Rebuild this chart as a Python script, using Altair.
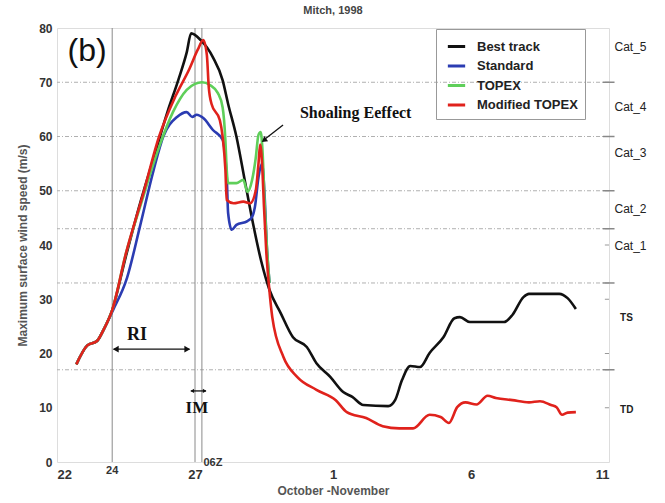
import altair as alt
import pandas as pd

# Days are counted from 22 October 1998, 00Z
black_day = [0.7, 1.1, 1.45, 1.7, 2.0, 2.5, 3.0, 3.5, 4.0, 4.4, 4.7, 4.86, 5.2, 5.65, 6.0, 6.2, 6.5, 6.8, 7.1, 7.4,
             7.7, 8.1, 8.55, 9.05, 9.4, 9.9, 10.37, 10.7, 11.1, 12.0, 12.25, 12.5, 12.8, 13.15, 13.5, 14.0, 14.4,
             14.6, 14.96, 16.2, 16.5, 16.9, 17.1, 18.2, 18.5, 18.8]
black_val = [18, 21.5, 22.3, 24.5, 28, 38, 47.5, 56, 64.5, 70.5, 75.5, 79, 77.8, 74.6, 70.4, 66, 60, 52, 44, 37,
             31.7, 27.5, 23, 21.2, 18.2, 15.7, 12.9, 12, 10.5, 10.3, 11.4, 15.1, 17.7, 17.5, 20.1, 23, 26.5,
             26.7, 25.8, 25.8, 27.1, 30.4, 31, 31, 30.2, 28.2]

blue_day = [0.7, 1.1, 1.45, 1.7, 2.03, 2.54, 3.0, 3.5, 3.85, 4.35, 4.7, 4.9, 5.06, 5.3, 5.65, 6.0, 6.15, 6.2, 6.33,
            6.5, 6.9, 7.07, 7.17, 7.3, 7.43, 7.53, 7.6, 7.7]
blue_val = [18, 21.5, 22.3, 24.5, 28, 34, 43.3, 53.8, 60, 63.6, 64.5, 63.6, 64, 63.4, 61.2, 59.4, 52.5, 45.9, 42.8,
            43.7, 44.4, 45.2, 47, 52.5, 55, 48.3, 40, 33]

green_day = [0.7, 1.1, 1.45, 1.7, 2.0, 2.5, 3.1, 3.4, 3.73, 4.2, 4.7, 5.0, 5.25, 5.54, 5.83, 6.0, 6.1, 6.15, 6.2,
             6.5, 6.75, 6.9, 7.07, 7.2, 7.3, 7.38, 7.45, 7.52, 7.6, 7.7]
green_val = [18, 21.5, 22.3, 24.5, 28, 38.5, 48.5, 53.5, 58.5, 64.5, 68.6, 69.7, 70, 69.5, 68, 65.4, 59.4, 53.8,
             51.4, 51.4, 52, 49.8, 52, 56, 60.3, 60.8, 57, 48, 40, 33]

red_day = [0.7, 1.1, 1.45, 1.7, 2.0, 2.5, 3.1, 3.7, 4.3, 4.8, 5.1, 5.3, 5.43, 5.5, 5.6, 5.9, 6.0, 6.1, 6.15, 6.4,
           6.75, 7.0, 7.2, 7.3, 7.36, 7.43, 7.5, 7.58, 7.68, 7.8, 8.2, 8.7, 9.4, 10.1, 10.5, 11.2, 11.8, 12.4,
           12.9, 13.5, 13.9, 14.2, 14.5, 14.8, 15.2, 15.6, 15.9, 16.5, 17.1, 17.5, 17.9, 18.1, 18.3, 18.5, 18.8]
red_val = [18, 21.5, 22.3, 24.5, 28, 38.5, 49, 60, 67.5, 72.5, 76, 77.8, 75, 69, 66, 63, 60, 54, 48.3, 47.7,
           48, 47.7, 50, 55, 58.5, 55, 47, 39, 32.5, 26.7, 19.4, 15.7, 13.3, 11.4, 9.2, 8.1, 6.6, 6.2,
           6.2, 8.7, 8.3, 7.2, 10.1, 11, 10.6, 12.2, 11.8, 11.4, 11, 11.2, 10.5, 10.1, 8.7, 9.1, 9.2]

series_names = ["Best track", "Standard", "TOPEX", "Modified TOPEX"]
series_colors = ["#111111", "#2b3cb2", "#5fcf5a", "#e0221c"]

# Saffir-Simpson thresholds (m/s) and category labels on the right
thresholds = [17, 33, 43, 50, 60, 70]
minor_right = [10, 20, 30, 40]
cat_names = ["Cat_5", "Cat_4", "Cat_3", "Cat_2", "Cat_1"]
cat_vals = [76.5, 65.4, 57, 46.6, 39.8]
storm_names = ["TS", "TD"]
storm_vals = [26.5, 9.6]

# Marked times: 24 Oct, 27 Oct 00Z, 27 Oct 06Z
event_days = [2.0, 5.0, 5.25]

xtick_days = [0, 5, 10, 15, 20]
xtick_labels = ["22", "27", "1", "6", "11"]

SANS = "Liberation Sans"
SERIF = "Liberation Serif"

label_expr = " : ".join(
    f"datum.value == {d} ? '{l}'" for d, l in zip(xtick_days, xtick_labels)
) + " : ''"

x_scale = alt.Scale(domain=[0, 20], nice=False, zero=False)
y_scale = alt.Scale(domain=[0, 80], nice=False)
color_scale = alt.Scale(domain=series_names, range=series_colors)

x_axis = alt.Axis(values=xtick_days, labelExpr=label_expr, title="October -November", ticks=False,
                  domain=False, grid=False, labelFont=SANS, labelFontSize=13, labelFontWeight="bold",
                  labelColor="#333", labelPadding=6, titleFont=SANS, titleFontSize=12,
                  titleFontWeight="bold", titleColor="#555", titlePadding=4)
y_axis = alt.Axis(values=list(range(0, 81, 10)), title="Maximum surface wind speed (m/s)", ticks=False,
                  domain=False, grid=False, labelFont=SANS, labelFontSize=12, labelFontWeight="bold",
                  labelColor="#333", labelPadding=5, titleFont=SANS, titleFontSize=12,
                  titleFontWeight="bold", titleColor="#555", titlePadding=9)

thr_df = pd.DataFrame({"v": thresholds})
thr_lines = alt.Chart(thr_df).mark_rule(color="#b0b0b0", strokeWidth=1, strokeDash=[4, 2, 1, 2]).encode(
    y=alt.Y("v:Q", scale=y_scale, axis=y_axis),
)

thr_ticks = alt.Chart(pd.DataFrame({"v": thresholds, "a": [19.78] * len(thresholds),
                                    "b": [20.2] * len(thresholds)})).mark_rule(
    color="#888", strokeWidth=1.5).encode(
    x=alt.X("a:Q", scale=x_scale, axis=x_axis), x2="b:Q", y=alt.Y("v:Q", scale=y_scale))

minor_ticks = alt.Chart(pd.DataFrame({"v": minor_right, "a": [19.85] * len(minor_right),
                                      "b": [20.0] * len(minor_right)})).mark_rule(
    color="#999", strokeWidth=1).encode(
    x=alt.X("a:Q", scale=x_scale), x2="b:Q", y=alt.Y("v:Q", scale=y_scale))

event_lines = alt.Chart(pd.DataFrame({"day": event_days})).mark_rule(color="#8a8a8a", strokeWidth=1).encode(
    x=alt.X("day:Q", scale=x_scale),
)

legend = alt.Legend(title=None, orient="none", legendX=379, legendY=1, symbolType="stroke",
                    symbolStrokeWidth=3, symbolSize=300, labelFont=SANS, labelFontSize=13,
                    labelFontWeight="bold", labelColor="#222", strokeColor="#999", padding=7,
                    rowPadding=1.5, labelOffset=10, symbolOffset=3)


def series_layer(name, days, vals, show_legend):
    df = pd.DataFrame({"day": days, "v": vals, "series": name})
    return alt.Chart(df).mark_line(strokeWidth=2.6, interpolate="monotone").encode(
        x=alt.X("day:Q", scale=x_scale),
        y=alt.Y("v:Q", scale=y_scale),
        color=alt.Color("series:N", scale=color_scale, legend=legend if show_legend else None),
    )


lines = [
    series_layer("Best track", black_day, black_val, True),
    series_layer("Standard", blue_day, blue_val, False),
    series_layer("TOPEX", green_day, green_val, False),
    series_layer("Modified TOPEX", red_day, red_val, False),
]

cat_text = alt.Chart(pd.DataFrame({"v": cat_vals, "t": cat_names, "day": [20.2] * len(cat_vals)})).mark_text(
    align="left", baseline="middle", font=SANS, fontSize=12, color="#222").encode(
    x=alt.X("day:Q", scale=x_scale), y=alt.Y("v:Q", scale=y_scale), text="t:N")

storm_text = alt.Chart(pd.DataFrame({"v": storm_vals, "t": storm_names, "day": [20.4] * 2})).mark_text(
    align="left", baseline="middle", font=SANS, fontSize=10, fontWeight="bold", color="#222").encode(
    x=alt.X("day:Q", scale=x_scale), y=alt.Y("v:Q", scale=y_scale), text="t:N")


def note(text, day, v, **kw):
    return alt.Chart(pd.DataFrame({"day": [day], "v": [v], "t": [text]})).mark_text(**kw).encode(
        x=alt.X("day:Q", scale=x_scale), y=alt.Y("v:Q", scale=y_scale), text="t:N")


panel = note("(b)", 0.38, 75.8, align="left", baseline="middle", font=SANS, fontSize=32, color="#111")
shoal = note("Shoaling Eeffect", 8.8, 64.3, align="left", baseline="middle", font=SERIF, fontSize=16,
             fontWeight="bold", color="#111")
ri = note("RI", 2.9, 23.4, align="center", baseline="middle", font=SERIF, fontSize=18, fontWeight="bold",
          color="#111")
im = note("IM", 5.07, 10.0, align="center", baseline="middle", font=SERIF, fontSize=17, fontWeight="bold",
          color="#111")
d24 = note("24", 2.0, -0.6, align="center", baseline="top", font=SANS, fontSize=11, fontWeight="bold",
           color="#333")
z06 = note("06Z", 5.65, 0.9, align="center", baseline="top", font=SANS, fontSize=11, fontWeight="bold",
           color="#333")


def segment(d0, v0, d1, v1, width=1.3):
    df = pd.DataFrame({"d0": [d0], "v0": [v0], "d1": [d1], "v1": [v1]})
    return alt.Chart(df).mark_rule(color="#111", strokeWidth=width).encode(
        x=alt.X("d0:Q", scale=x_scale), y=alt.Y("v0:Q", scale=y_scale), x2="d1:Q", y2="v1:Q")


def head(day, v, shape, size, angle=0):
    return alt.Chart(pd.DataFrame({"day": [day], "v": [v]})).mark_point(
        shape=shape, size=size, filled=True, color="#111", opacity=1, angle=angle).encode(
        x=alt.X("day:Q", scale=x_scale), y=alt.Y("v:Q", scale=y_scale))


arrows = [
    segment(8.19, 62.1, 7.55, 59.6),
    head(7.5, 59.3, "triangle-up", 40, 233),
    segment(2.05, 20.8, 4.8, 20.8),
    head(2.13, 20.8, "triangle-left", 45),
    head(4.72, 20.8, "triangle-right", 45),
    segment(4.85, 13.1, 5.4, 13.1),
    head(4.9, 13.1, "triangle-left", 18),
    head(5.35, 13.1, "triangle-right", 18),
]

chart = alt.layer(
    thr_lines, thr_ticks, minor_ticks, event_lines, *lines, cat_text, storm_text,
    panel, shoal, ri, im, d24, z06, *arrows,
).properties(
    width=552, height=434,
    padding={"left": 57, "top": 28, "right": 56, "bottom": 41},
    autosize=alt.AutoSizeParams(type="none"),
    title=alt.TitleParams("Mitch, 1998", font=SANS, fontSize=11, fontWeight="bold", color="#444",
                          anchor="middle", offset=6),
).configure_view(
    stroke="#9a9a9a", strokeWidth=1.5
).configure(background="white")

chart.save("out.html", embed_options={"renderer": "svg", "actions": False})
